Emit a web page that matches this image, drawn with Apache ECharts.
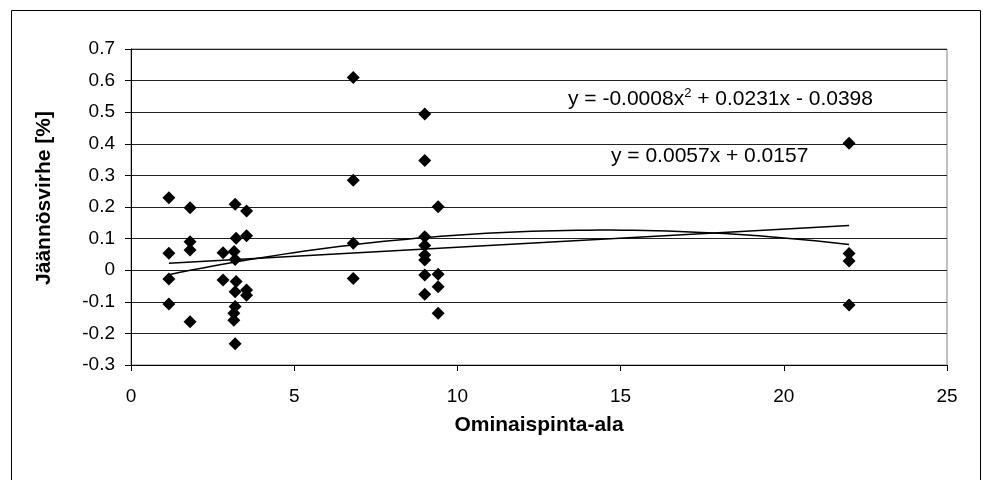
<!DOCTYPE html>
<html><head><meta charset="utf-8">
<script src="https://cdn.jsdelivr.net/npm/echarts@6/dist/echarts.min.js"></script>
<style>html,body{margin:0;padding:0;background:#fff}#c{width:983px;height:480px}</style>
</head><body><div id="c"></div>
<script>
// Data
const xValues = [1.16,1.16,1.16,1.16, 1.81,1.81,1.81,1.81, 2.82,2.82,
  3.19,3.22,3.16,3.19,3.22,3.19,3.19,3.15,3.15,3.19,
  3.54,3.54,3.54,3.54,
  6.81,6.81,6.81,6.81,
  9.0,9.0,9.0,9.0,9.0,9.0,9.0,9.0,
  9.41,9.41,9.41,9.41,
  22,22,22,22];
const yValues = [0.229,0.054,-0.028,-0.107, 0.198,0.09,0.064,-0.163, 0.055,-0.031,
  0.209,0.101,0.059,0.034,-0.036,-0.068,-0.115,-0.136,-0.158,-0.233,
  0.187,0.109,-0.063,-0.079,
  0.610,0.285,0.085,-0.026,
  0.494,0.347,0.106,0.078,0.048,0.032,-0.015,-0.076,
  0.201,-0.013,-0.052,-0.136,
  0.402,0.053,0.029,-0.110];
const linearCoef = [0.0057, 0.0157];          // slope, intercept
const polyCoef = [-0.0008, 0.0231, -0.0398];  // a, b, c
const trendRange = [1.16, 22];
const xTicks = [0,5,10,15,20,25];
const yTicks = [-0.3,-0.2,-0.1,0,0.1,0.2,0.3,0.4,0.5,0.6,0.7];

const points = xValues.map((x,i)=>[x,yValues[i]]);
const linLine = trendRange.map(x=>[x, linearCoef[0]*x+linearCoef[1]]);
const polyLine = [];
for (let k=0;k<=60;k++){const x=trendRange[0]+(trendRange[1]-trendRange[0])*k/60;
  polyLine.push([x, polyCoef[0]*x*x+polyCoef[1]*x+polyCoef[2]]);}

const chart = echarts.init(document.getElementById('c'));
const font = 'Liberation Sans, Arial, sans-serif';
chart.setOption({
  animation:false,
  backgroundColor:'#fff',
  grid:{left:131,right:36,top:49,bottom:115,show:true,borderColor:'#808080',borderWidth:1},
  xAxis:{type:'value',min:xTicks[0],max:xTicks[xTicks.length-1],interval:5,
    name:'Ominaispinta-ala',nameLocation:'middle',nameGap:50,
    nameTextStyle:{fontFamily:font,fontSize:21,fontWeight:'bold',color:'#000'},
    axisLine:{onZero:false,lineStyle:{color:'#000',width:1}},
    axisTick:{show:true,inside:false,length:6,lineStyle:{color:'#000'}},
    axisLabel:{fontFamily:font,fontSize:19,color:'#000',margin:22},
    splitLine:{show:false}},
  yAxis:{type:'value',min:yTicks[0],max:yTicks[yTicks.length-1],interval:0.1,
    name:'Jäännösvirhe [%]',nameLocation:'middle',nameGap:76,
    nameTextStyle:{fontFamily:font,fontSize:21,fontWeight:'bold',color:'#000',padding:[0,0,0,18]},
    axisLine:{show:true,lineStyle:{color:'#000',width:1}},
    axisTick:{show:true,length:6,lineStyle:{color:'#000'}},
    axisLabel:{fontFamily:font,fontSize:19,color:'#000',margin:16,
      formatter:v=>{const r=Math.round(v*10)/10; return r===0?'0':String(r);}},
    splitLine:{show:true,lineStyle:{color:'#222',width:1}}},
  series:[
    {type:'scatter',data:points,symbol:'diamond',symbolSize:[13,13],
      itemStyle:{color:'#000',opacity:1},z:3},
    {type:'line',data:linLine,symbol:'none',lineStyle:{color:'#000',width:1.5},z:2},
    {type:'line',data:polyLine,symbol:'none',lineStyle:{color:'#000',width:1.5},z:2}
  ],
  graphic:[
    {type:'rect',shape:{x:11.5,y:10.5,width:969,height:480},style:{fill:null,stroke:'#000',lineWidth:1},silent:true},
    {type:'text',left:568,top:87,style:{
      rich:{n:{fontFamily:font,fontSize:21,fill:'#000'},s:{fontFamily:font,fontSize:13,fill:'#000',padding:[0,0,12,0]}},
      text:'{n|y = -0.0008x}{s|2}{n| + 0.0231x - 0.0398}'}},
    {type:'text',left:611,top:146,style:{fontFamily:font,fontSize:21,fill:'#000',
      text:'y = 0.0057x + 0.0157'}}
  ]
});
</script></body></html>
